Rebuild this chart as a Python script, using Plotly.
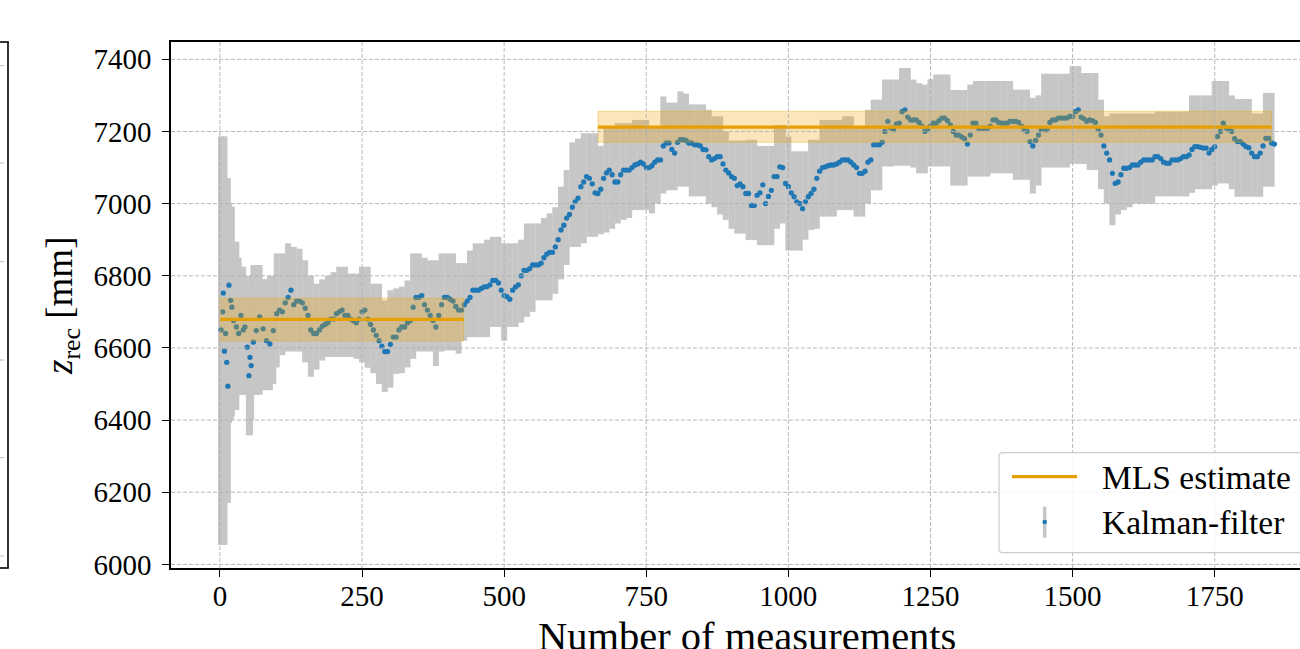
import plotly.graph_objects as go

# ---------------- data ----------------
# Kalman-filter estimates with their error-bar extent (upper / lower end)
kf_x = [2, 5, 6, 8, 10, 12, 14, 16, 19, 21, 24, 29, 33, 37, 41, 44, 48, 51, 53, 55,
        59, 64, 70, 76, 82, 88, 94, 100,
        110, 120, 130, 140, 150, 160, 170, 180, 190, 200, 210, 220, 230, 240, 250,
        260, 270, 280, 290, 300, 310, 320, 330, 340, 350, 360, 370, 380, 390, 400,
        410, 420, 430, 440, 450, 460, 470, 480, 490, 500, 510, 520, 530, 540, 550,
        560, 570, 580, 590, 600, 610, 620, 630, 640, 650, 660, 670, 680, 690, 700,
        710, 720, 730, 740, 750, 760, 770, 780, 790, 800, 810, 820, 830, 840, 850,
        860, 870, 880, 890, 900, 910, 920, 930, 940, 950, 960, 970, 980, 990, 1000,
        1010, 1020, 1030, 1040, 1050, 1060, 1070, 1080, 1090, 1100, 1110, 1120, 1130,
        1140, 1150, 1160, 1170, 1180, 1190, 1200, 1210, 1220, 1230, 1240, 1250, 1260,
        1270, 1280, 1290, 1300, 1310, 1320, 1330, 1340, 1350, 1360, 1370, 1380, 1390,
        1400, 1410, 1420, 1430, 1440, 1450, 1460, 1470, 1480, 1490, 1500, 1510, 1520,
        1530, 1540, 1550, 1560, 1570, 1580, 1590, 1600, 1610, 1620, 1630, 1640, 1650,
        1660, 1670, 1680, 1690, 1700, 1710, 1720, 1730, 1740, 1750, 1760, 1770, 1780,
        1790, 1800, 1810, 1820, 1830, 1840, 1850]

kf_z = [6650, 6700, 6752, 6591, 6640, 6560, 6494, 6774, 6732, 6713, 6676, 6658, 6640, 6690,
        6650, 6658, 6602, 6523, 6574, 6551, 6616, 6648, 6686, 6653, 6620, 6611, 6648, 6695,
        6700, 6740, 6720, 6730, 6710, 6650, 6640, 6660, 6670, 6680, 6700, 6690, 6680, 6670,
        6700, 6680, 6650, 6620, 6590, 6610, 6630, 6658, 6670, 6713, 6740, 6720, 6690, 6658,
        6720, 6740, 6730, 6705, 6720, 6740, 6760, 6765, 6770, 6787, 6780, 6745, 6735, 6769,
        6800, 6815, 6830, 6830, 6850, 6865, 6880, 6927, 6960, 6990, 7015, 7060, 7070, 7030,
        7040, 7085, 7080, 7060, 7093, 7093, 7107, 7115, 7100, 7105, 7121, 7160, 7168, 7140,
        7177, 7175, 7168, 7163, 7150, 7130, 7125, 7130, 7093, 7075, 7050, 7047, 7028, 6995,
        7030, 7000, 7037, 7075, 7100, 7047, 7019, 7000, 7005, 7028, 7070, 7100, 7105, 7107,
        7115, 7121, 7115, 7100, 7084, 7115, 7163, 7163, 7200, 7210, 7220, 7255, 7240, 7232,
        7225, 7200, 7215, 7223, 7237, 7230, 7200, 7190, 7180, 7190, 7223, 7209, 7209, 7232,
        7225, 7223, 7228, 7228, 7215, 7200, 7160, 7190, 7205, 7225, 7232, 7237, 7237, 7242,
        7260, 7235, 7232, 7225, 7190, 7140, 7084, 7060, 7098, 7100, 7107, 7115, 7121, 7121,
        7130, 7115, 7112, 7121, 7125, 7130, 7150, 7158, 7154, 7140, 7158, 7200, 7210, 7200,
        7172, 7165, 7155, 7130, 7140, 7181, 7168]

kf_hi = [7186, 7186, 7186, 7186, 7070, 7070, 7070, 7000, 6991, 6991, 6894, 6894, 6850, 6825,
         6825, 6800, 6778, 6778, 6778, 6800, 6830, 6830, 6830, 6790, 6790, 6800, 6800, 6862,
         6862, 6890, 6880, 6875, 6843, 6800, 6778, 6790, 6800, 6810, 6825, 6825, 6806, 6806,
         6825, 6825, 6778, 6778, 6732, 6760, 6765, 6770, 6787, 6862, 6862, 6850, 6843, 6843,
         6862, 6862, 6862, 6835, 6835, 6870, 6890, 6890, 6900, 6908, 6908, 6890, 6890, 6890,
         6900, 6945, 6945, 6945, 6960, 6973, 6990, 7047, 7093, 7170, 7180, 7195, 7195, 7195,
         7160, 7214, 7214, 7223, 7223, 7223, 7232, 7232, 7232, 7214, 7214, 7297, 7280, 7280,
         7311, 7305, 7275, 7275, 7275, 7260, 7242, 7242, 7200, 7175, 7175, 7175, 7177, 7177,
         7160, 7160, 7160, 7218, 7218, 7186, 7145, 7145, 7145, 7177, 7177, 7232, 7232, 7232,
         7232, 7242, 7242, 7214, 7214, 7260, 7288, 7288, 7344, 7344, 7344, 7376, 7376, 7344,
         7334, 7330, 7345, 7358, 7358, 7358, 7315, 7315, 7315, 7330, 7340, 7340, 7340, 7340,
         7340, 7340, 7340, 7316, 7316, 7316, 7293, 7300, 7360, 7360, 7360, 7360, 7360, 7381,
         7381, 7362, 7362, 7362, 7288, 7242, 7250, 7250, 7250, 7250, 7250, 7250, 7250, 7250,
         7255, 7255, 7255, 7255, 7255, 7255, 7300, 7300, 7300, 7300, 7340, 7340, 7340, 7300,
         7290, 7290, 7290, 7250, 7250, 7307, 7307]

kf_lo = [6054, 6054, 6054, 6054, 6170, 6170, 6170, 6392, 6400, 6410, 6428, 6428, 6470, 6470,
         6470, 6470, 6470, 6358, 6358, 6400, 6470, 6470, 6470, 6483, 6483, 6483, 6500, 6546,
         6580, 6590, 6590, 6590, 6560, 6520, 6540, 6565, 6575, 6575, 6575, 6575, 6575, 6570,
         6560, 6545, 6530, 6500, 6478, 6490, 6528, 6530, 6546, 6570, 6590, 6590, 6590, 6550,
         6590, 6593, 6593, 6584, 6620, 6630, 6630, 6630, 6630, 6658, 6658, 6620, 6658, 6658,
         6670, 6686, 6700, 6732, 6732, 6732, 6750, 6790, 6830, 6880, 6880, 6890, 6908, 6908,
         6915, 6920, 6930, 6945, 6955, 6960, 6982, 6982, 6982, 6973, 7000, 7028, 7037, 7037,
         7047, 7047, 7020, 7020, 7020, 7000, 6990, 6970, 6955, 6930, 6917, 6917, 6899, 6899,
         6885, 6885, 6885, 6930, 6945, 6870, 6870, 6870, 6900, 6927, 6930, 6964, 6964, 6964,
         6982, 6982, 6982, 6964, 6964, 7000, 7037, 7037, 7103, 7103, 7105, 7105, 7105, 7100,
         7084, 7084, 7103, 7103, 7103, 7103, 7050, 7050, 7050, 7075, 7075, 7075, 7075, 7084,
         7084, 7084, 7084, 7066, 7066, 7066, 7028, 7050, 7100, 7100, 7100, 7100, 7100, 7110,
         7110, 7110, 7093, 7093, 7040, 7000, 6940, 6970, 6982, 6990, 7000, 7000, 7000, 7000,
         7020, 7020, 7020, 7020, 7020, 7020, 7030, 7040, 7040, 7040, 7050, 7056, 7056, 7040,
         7019, 7019, 7019, 7019, 7019, 7047, 7047]

# additional Kalman-filter points read between the samples above
kf_mid_x = [105, 115, 125, 135, 145, 155, 165, 175, 185, 195, 205, 215, 225, 235, 245, 255,
            265, 275, 285, 295, 305, 315, 325, 335, 345, 355, 365, 375, 385, 395, 405, 415,
            425, 435, 445, 455, 465, 475, 485, 495, 505, 515, 525, 535, 545, 555, 565, 575,
            585, 595, 605, 615, 625, 635, 645, 655, 665, 675, 685, 695, 705, 715, 725, 735,
            745, 755, 765, 775, 785, 795, 805, 815, 825, 835, 845, 855, 865, 875, 885, 895,
            905, 915, 925, 935, 945, 955, 965, 975, 985, 995, 1005, 1015, 1025, 1035, 1045,
            1055, 1065, 1075, 1085, 1095, 1105, 1115, 1125, 1135, 1145, 1155, 1165, 1175,
            1185, 1195, 1205, 1215, 1225, 1235, 1245, 1255, 1265, 1275, 1285, 1295, 1305,
            1315, 1325, 1335, 1345, 1355, 1365, 1375, 1385, 1395, 1405, 1415, 1425, 1435,
            1445, 1455, 1465, 1475, 1485, 1495, 1505, 1515, 1525, 1535, 1545, 1555, 1565,
            1575, 1585, 1595, 1605, 1615, 1625, 1635, 1645, 1655, 1665, 1675, 1685, 1695,
            1705, 1715, 1725, 1735, 1745, 1755, 1765, 1775, 1785, 1795, 1805, 1815, 1825,
            1835, 1845, 1855]
kf_mid_z = [6705, 6725, 6760, 6730, 6725, 6690, 6640, 6650, 6665, 6680, 6695, 6705, 6690,
            6675, 6680, 6705, 6665, 6635, 6605, 6590, 6630, 6650, 6658, 6676, 6740, 6745,
            6705, 6676, 6690, 6740, 6735, 6715, 6705, 6730, 6760, 6760, 6769, 6775, 6787,
            6760, 6742, 6760, 6775, 6815, 6820, 6830, 6835, 6860, 6865, 6900, 6940, 6970,
            7005, 7047, 7075, 7055, 7028, 7070, 7093, 7060, 7080, 7093, 7100, 7110, 7110,
            7100, 7115, 7121, 7168, 7150, 7170, 7177, 7168, 7163, 7160, 7149, 7121, 7130,
            7110, 7085, 7070, 7055, 7028, 6995, 7023, 7052, 7020, 7075, 7102, 7056, 7030,
            7005, 6986, 7019, 7040, 7090, 7102, 7107, 7110, 7121, 7121, 7107, 7084, 7090,
            7121, 7163, 7170, 7228, 7205, 7223, 7260, 7232, 7232, 7215, 7205, 7223, 7230,
            7237, 7218, 7190, 7185, 7165, 7223, 7209, 7209, 7215, 7232, 7223, 7223, 7228,
            7225, 7205, 7172, 7175, 7205, 7205, 7232, 7237, 7237, 7242, 7255, 7240, 7228,
            7230, 7205, 7160, 7121, 7056, 7080, 7098, 7107, 7107, 7121, 7121, 7130, 7125,
            7112, 7121, 7121, 7130, 7135, 7158, 7156, 7154, 7150, 7186, 7223, 7205, 7180,
            7172, 7158, 7140, 7130, 7160, 7181, 7165]

mls_x0 = [0, 665]
mls_x1 = [429, 1850]
mls_z = [6679, 7212]
mls_lo = [6619, 7170]
mls_hi = [6738, 7256]

x_ticks = [0, 250, 500, 750, 1000, 1250, 1500, 1750]
y_ticks = [6000, 6200, 6400, 6600, 6800, 7000, 7200, 7400]

# ---------------- styling / layout constants ----------------
W, H = 1300, 649
ML, MR, MT, MB = 171, 0, 42, 81
PW, PH = W - ML - MR, H - MT - MB
FONT = "Liberation Serif"
BLUE = "#1f77b4"
ORANGE = "#e69f00"
GRAY = "#c6c6c6"


def px(xp):
    return (xp - ML) / PW


def py(yp):
    return (H - MB - yp) / PH


fig = go.Figure()

# error bars (grey band)
fig.add_trace(go.Scatter(
    x=kf_x, y=kf_z, mode="markers",
    marker=dict(size=1, color="rgba(0,0,0,0)"),
    error_y=dict(type="data", symmetric=False,
                 array=[h - z for h, z in zip(kf_hi, kf_z)],
                 arrayminus=[z - l for z, l in zip(kf_z, kf_lo)],
                 thickness=6, width=0, color=GRAY),
    showlegend=False, hoverinfo="skip"))

# Kalman-filter points
fig.add_trace(go.Scatter(
    x=kf_x + kf_mid_x, y=kf_z + kf_mid_z, mode="markers",
    marker=dict(size=5.3, color=BLUE, line=dict(width=0)),
    showlegend=False, hoverinfo="skip"))

for x0, x1, z, lo, hi in zip(mls_x0, mls_x1, mls_z, mls_lo, mls_hi):
    fig.add_trace(go.Scatter(
        x=[x0, x1, x1, x0, x0], y=[lo, lo, hi, hi, lo], mode="lines",
        fill="toself", fillcolor="rgba(236,163,0,0.27)",
        line=dict(color="rgba(236,163,0,0.35)", width=1),
        showlegend=False, hoverinfo="skip"))
    fig.add_trace(go.Scatter(
        x=[x0, x1], y=[z, z], mode="lines",
        line=dict(color=ORANGE, width=3.2),
        showlegend=False, hoverinfo="skip"))

shapes = []
grid_line = dict(color="#b0b0b0", width=0.9, dash="4px,2px")
for xv in x_ticks:
    shapes.append(dict(type="line", xref="x", yref="paper", x0=xv, x1=xv, y0=0, y1=1,
                       line=grid_line, layer="above"))
for yv in y_ticks:
    shapes.append(dict(type="line", xref="paper", yref="y", x0=0, x1=1, y0=yv, y1=yv,
                       line=grid_line, layer="above"))

# part of the neighbouring panel at the left edge
shapes.append(dict(type="line", xref="paper", yref="paper", x0=px(8), x1=px(8), y0=0, y1=1,
                   line=dict(color="black", width=1.6)))
shapes.append(dict(type="line", xref="paper", yref="paper", x0=px(-2), x1=px(8.8), y0=1, y1=1,
                   line=dict(color="black", width=1.6)))
shapes.append(dict(type="line", xref="paper", yref="paper", x0=px(-2), x1=px(8.8), y0=0, y1=0,
                   line=dict(color="black", width=1.6)))
for gy in [65.7, 163, 261.7, 360, 457.7, 556]:
    shapes.append(dict(type="line", xref="paper", yref="paper", x0=px(0), x1=px(6),
                       y0=py(gy), y1=py(gy), line=grid_line))

# legend (drawn by hand)
lx0, lx1, ly0, ly1 = px(999), px(1320), py(552.7), py(452.7)
rx, ry = 4 / PW, 4 / PH
path = (f"M {lx0 + rx} {ly0} L {lx1} {ly0} L {lx1} {ly1} L {lx0 + rx} {ly1} "
        f"Q {lx0} {ly1} {lx0} {ly1 - ry} L {lx0} {ly0 + ry} Q {lx0} {ly0} {lx0 + rx} {ly0} Z")
shapes.append(dict(type="path", xref="paper", yref="paper", path=path,
                   fillcolor="rgba(255,255,255,0.85)", line=dict(color="#cccccc", width=1.2),
                   layer="above"))
shapes.append(dict(type="line", xref="paper", yref="paper", x0=px(1012), x1=px(1077),
                   y0=py(476.7), y1=py(476.7), line=dict(color=ORANGE, width=3.2), layer="above"))
shapes.append(dict(type="line", xref="paper", yref="paper", x0=px(1044.7), x1=px(1044.7),
                   y0=py(537.7), y1=py(506.7), line=dict(color=GRAY, width=3.5), layer="above"))
r = 2.3
shapes.append(dict(type="circle", xref="paper", yref="paper",
                   x0=px(1044.7 - r), x1=px(1044.7 + r), y0=py(522 + r), y1=py(522 - r),
                   fillcolor=BLUE, line=dict(width=0), layer="above"))

annotations = [
    dict(text="MLS estimate", xref="paper", yref="paper", x=px(1100), y=py(477.5),
         xanchor="left", yanchor="middle", showarrow=False,
         font=dict(family=FONT, size=33.5, color="black")),
    dict(text="Kalman-filter", xref="paper", yref="paper", x=px(1100), y=py(522.4),
         xanchor="left", yanchor="middle", showarrow=False,
         font=dict(family=FONT, size=33.5, color="black")),
    dict(text="Number of measurements", xref="paper", yref="paper", x=px(746.7), y=py(636),
         xanchor="center", yanchor="middle", showarrow=False,
         font=dict(family=FONT, size=40.5, color="black")),
    dict(text="<i>z</i><sub>rec</sub> [mm]", xref="paper", yref="paper", x=px(62), y=py(306),
         xanchor="center", yanchor="middle", showarrow=False, textangle=-90,
         font=dict(family=FONT, size=37, color="black")),
]

axis_common = dict(showline=True, linecolor="black", linewidth=1.6, ticks="outside",
                   ticklen=7, tickwidth=1.3, tickcolor="black", showgrid=False,
                   zeroline=False, tickfont=dict(family=FONT, size=29, color="black"))

fig.update_layout(
    width=W, height=H,
    margin=dict(l=ML, r=MR, t=MT, b=MB, pad=0),
    paper_bgcolor="white", plot_bgcolor="white",
    xaxis=dict(range=[-86, 1900], tickvals=x_ticks, ticktext=[str(v) for v in x_ticks],
               mirror=True, ticklabelstandoff=-6, **axis_common),
    yaxis=dict(range=[5990, 7448], tickvals=y_ticks, ticktext=[str(v) for v in y_ticks],
               mirror=False, ticklabelstandoff=5, **axis_common),
    shapes=shapes, annotations=annotations, showlegend=False,
)

fig.write_html("out.html", config={"displayModeBar": False},
               post_script="document.body.style.margin='0px';")
